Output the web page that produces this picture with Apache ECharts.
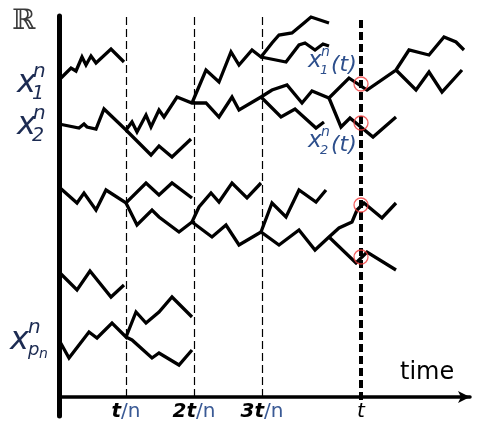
<!DOCTYPE html>
<html><head><meta charset="utf-8">
<script src="https://cdn.jsdelivr.net/npm/echarts@6/dist/echarts.min.js"></script>
<style>html,body{margin:0;padding:0;background:#fff}#c{width:477px;height:422px}</style>
</head><body><div id="c"></div>
<script>
// tick positions on the time axis and their labels
const tickValues = [67, 135, 203, 302];
const tickLabels = ['t/n', '2t/n', '3t/n', 't'];
const gridTimes = [67, 135, 203];
const currentTime = 302;

// particle paths [time, position]
const pathX1 = [[0,317],[12,329],[17,326],[23,340],[27,332],[32,341],[37,334],[52,348],[65,335]];
const pathX2 = [[0,273],[20,269],[25,273],[28,270],[37,268],[45,288],[67,267],[73,275],[78,265],[87,282],[92,270],[100,287],[105,280],[118,300],[133,294],[147,294],[160,280],[173,300],[180,287],[202,300],[213,307],[228,312],[243,294],[253,306],[270,299],[290,319],[308,307],[337,327],[350,347],[370,342],[385,360],[397,355],[405,347]];
const branchX2Down = [[67,267],[92,242],[100,251],[113,240],[132,258]];
const branchTop = [[133,294],[147,327],[160,315],[172,345],[180,332],[193,347],[202,340],[213,354],[220,362],[233,364],[245,374],[252,380],[270,374]];
const branchTop2 = [[202,340],[227,335],[240,352],[246,354],[256,347],[264,353],[270,351]];
const branchMidA = [[202,300],[222,280],[236,288],[257,269],[265,275]];
const branchRight1 = [[337,327],[357,307],[370,325],[383,305],[403,327]];
const branchRight2 = [[270,299],[282,270],[291,279],[314,260],[337,280]];
const pathMid = [[0,210],[18,194],[25,204],[37,187],[47,207],[67,194],[87,214],[100,202],[113,214],[133,199]];
const branchMidLow = [[67,194],[78,172],[93,187],[100,180],[120,165],[133,175],[153,160],[167,172],[180,152],[202,165],[220,152],[240,167],[256,147],[270,160],[280,169],[293,175],[298,187],[305,194],[323,179],[337,194]];
const branchMid2 = [[133,175],[140,190],[152,204],[160,195],[173,214],[188,199],[202,214]];
const branchMid3 = [[202,165],[213,194],[227,180],[240,207],[257,195],[267,207]];
const branchMid4 = [[270,160],[297,134],[308,145],[337,127]];
const pathL1 = [[0,125],[18,107],[31,126],[52,100],[65,112]];
const pathPn = [[0,57],[10,39],[30,65],[38,59],[53,74],[67,60],[77,85],[87,74],[100,85],[113,100],[133,80]];
const branchPn = [[67,60],[73,57],[93,39],[100,44],[120,32],[133,47]];

const markedPoints = [[302,313],[302,274],[302,192],[302,140]];

const paths = [pathX1, pathX2, branchX2Down, branchTop, branchTop2, branchMidA, branchRight1, branchRight2,
  pathMid, branchMidLow, branchMid2, branchMid3, branchMid4, pathL1, pathPn, branchPn];

const chart = echarts.init(document.getElementById('c'), null, {renderer: 'canvas'});

const series = paths.map(p => ({
  type: 'line', data: p, symbol: 'none', silent: true,
  lineStyle: {color: '#000', width: 3.3, join: 'miter'}
}));

series.push({
  type: 'line', data: [], symbol: 'none', silent: true,
  markLine: {
    silent: true, symbol: ['none', 'none'], label: {show: false},
    data: gridTimes.map(t => [
      {coord: [t, 0], lineStyle: {type: [8, 4], width: 1.2, color: '#000'}},
      {coord: [t, 381]}
    ]).concat([[
      {coord: [currentTime, -3], lineStyle: {type: [8, 4], width: 4, color: '#000'}},
      {coord: [currentTime, 381]}
    ]])
  }
});

series.push({
  type: 'scatter', data: markedPoints, symbol: 'circle', symbolSize: 14, silent: true,
  itemStyle: {color: 'rgba(0,0,0,0)', borderColor: '#f03a3a', borderWidth: 1.3}, z: 5
});

const labelFont = 'DejaVu Sans';
function txt(x, y, text, size, opts) {
  return Object.assign({
    type: 'text', x: x, y: y, silent: true,
    style: Object.assign({
      text: text, fontFamily: labelFont, fontSize: size, fill: '#1c2b52',
      align: 'left', verticalAlign: 'middle'
    }, opts || {})
  });
}
const it = {fontStyle: 'italic'};
const blue = {fontStyle: 'italic', fill: '#2d4f8c'};

const graphics = [
  txt(12, 22, 'ℝ', 28, {fontFamily: 'DejaVu Serif', fill: '#3a3a3a'}),
  // x_1^n
  txt(17, 84, 'x', 32, it), txt(33, 72, 'n', 20, it), txt(32, 94, '1', 19, it),
  // x_2^n
  txt(17, 126, 'x', 32, it), txt(33, 114, 'n', 20, it), txt(32, 136, '2', 19, it),
  // x_{p_n}^n
  txt(10, 341, 'x', 32, it), txt(28, 328, 'n', 20, it), txt(28, 350, 'p', 18, it), txt(39, 354, 'n', 14, it),
  // x_1^n(t)
  txt(308, 61, 'x', 23, blue), txt(321, 52, 'n', 14, blue), txt(320, 71, '1', 13, blue), txt(331, 65, '(t)', 22, blue),
  // x_2^n(t)
  txt(308, 141, 'x', 23, blue), txt(321, 132, 'n', 14, blue), txt(320, 151, '2', 13, blue), txt(331, 145, '(t)', 22, blue),
  // time
  txt(400, 373, 'time', 24, {fill: '#000', fontStyle: 'normal'})
];

chart.setOption({
  animation: false,
  backgroundColor: '#fff',
  grid: {left: 59, right: 7, top: 16, bottom: 6, outerBoundsMode: 'none', containLabel: false},
  xAxis: {
    type: 'value', min: 0, max: 411,
    axisLine: {onZero: true, symbol: ['none', 'arrow'], symbolSize: [9, 12], lineStyle: {color: '#000', width: 3.5}},
    axisTick: {show: false}, splitLine: {show: false},
    axisLabel: {
      customValues: tickValues, margin: -14,
      formatter: v => {
        const s = tickLabels[tickValues.indexOf(v)] || '';
        const m = s.match(/^(\d*t)(\/n)?$/);
        if (!m) return s;
        if (!m[2]) return '{c|' + m[1] + '}';
        return '{b|' + m[1] + '}{s|' + m[2] + '}';
      },
      rich: {
        b: {fontFamily: labelFont, fontSize: 20, fontStyle: 'italic', fontWeight: 'bold', color: '#000'},
        c: {fontFamily: labelFont, fontSize: 20, fontStyle: 'italic', color: '#000'},
        s: {fontFamily: labelFont, fontSize: 20, color: '#3a5a95'}
      }
    }
  },
  yAxis: {
    type: 'value', min: -19, max: 381,
    axisLine: {show: true, onZero: false, lineStyle: {color: '#000', width: 5}},
    axisTick: {show: false}, axisLabel: {show: false}, splitLine: {show: false}
  },
  series: series,
  graphic: graphics
});
</script>
</body></html>
